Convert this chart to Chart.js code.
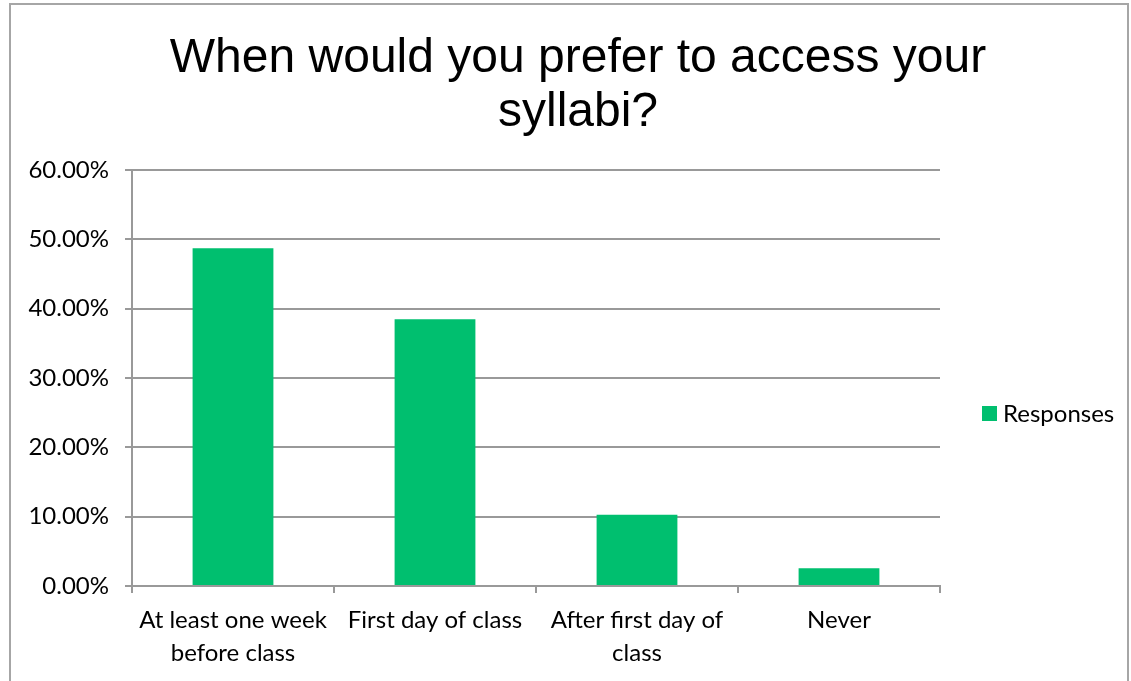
<!DOCTYPE html>
<html>
<head>
<meta charset="utf-8">
<script src="https://cdn.jsdelivr.net/npm/chart.js@4"></script>
<style>
html,body{margin:0;padding:0;background:#fff;}
#wrap{position:absolute;left:0;top:0;width:1131px;height:681px;}
</style>
</head>
<body>
<div id="wrap"><canvas id="c" width="1131" height="681"></canvas></div>
<script>
const titleLines = ["When would you prefer to access your", "syllabi?"];
const categories = [["At least one week", "before class"], ["First day of class"], ["After first day of", "class"], ["Never"]];
const seriesName = "Responses";
const responses = [48.72, 38.46, 10.26, 2.56];
const yTicks = [0, 10, 20, 30, 40, 50, 60];

const barColor = "#00BF6F";
const gridColor = "#999999";
const labelFont = "Lato, 'Open Sans', sans-serif";

const framePlugin = {
  id: 'frame',
  beforeDraw(chart) {
    const ctx = chart.ctx;
    ctx.save();
    ctx.fillStyle = '#fff';
    ctx.fillRect(0, 0, chart.width, chart.height);
    ctx.strokeStyle = '#a6a6a6';
    ctx.lineWidth = 2;
    ctx.strokeRect(10, 4, 1118, 700);
    ctx.restore();
  }
};

const titlePlugin = {
  id: 'customTitle',
  afterDraw(chart) {
    const ctx = chart.ctx;
    ctx.save();
    ctx.fillStyle = '#000';
    ctx.font = "48px 'Liberation Sans', Arial, sans-serif";
    ctx.textAlign = 'center';
    ctx.textBaseline = 'alphabetic';
    titleLines.forEach((t, i) => ctx.fillText(t, 578, 72 + i * 54));
    ctx.restore();
  }
};

const legendPlugin = {
  id: 'customLegend',
  afterDraw(chart) {
    const ctx = chart.ctx;
    const ds = chart.data.datasets[0];
    ctx.save();
    ctx.fillStyle = ds.backgroundColor;
    ctx.fillRect(982, 406, 15, 15);
    ctx.fillStyle = '#000';
    ctx.font = "24px " + labelFont;
    ctx.textBaseline = 'middle';
    ctx.textAlign = 'left';
    ctx.fillText(ds.label, 1003, 414);
    ctx.restore();
  }
};

new Chart(document.getElementById('c'), {
  type: 'bar',
  data: {
    labels: categories,
    datasets: [{
      label: seriesName,
      data: responses,
      backgroundColor: barColor,
      borderWidth: 0,
      categoryPercentage: 1.0,
      barPercentage: 0.4
    }]
  },
  options: {
    responsive: false,
    animation: false,
    devicePixelRatio: 1,
    layout: { padding: { left: 0, right: 191, top: 170, bottom: 0 } },
    plugins: {
      legend: { display: false },
      tooltip: { enabled: false },
      title: { display: false }
    },
    scales: {
      x: {
        grid: { display: true, drawOnChartArea: false, drawTicks: true, tickLength: 7, offset: true, color: gridColor, lineWidth: 2 },
        border: { display: true, color: gridColor, width: 2 },
        ticks: { color: '#000', font: { family: labelFont, size: 24, lineHeight: 1.375 }, padding: 11, maxRotation: 0, autoSkip: false }
      },
      y: {
        min: 0, max: 60,
        afterFit(scale) { scale.width = 132; },
        afterBuildTicks(scale) { scale.ticks = yTicks.map(v => ({ value: v })); },
        grid: { color: gridColor, lineWidth: 2, tickLength: 7 },
        border: { display: true, color: gridColor, width: 2 },
        ticks: {
          color: '#000',
          font: { family: labelFont, size: 24 },
          padding: 16,
          callback: v => v.toFixed(2) + '%'
        }
      }
    }
  },
  plugins: [framePlugin, titlePlugin, legendPlugin]
});
</script>
</body>
</html>
